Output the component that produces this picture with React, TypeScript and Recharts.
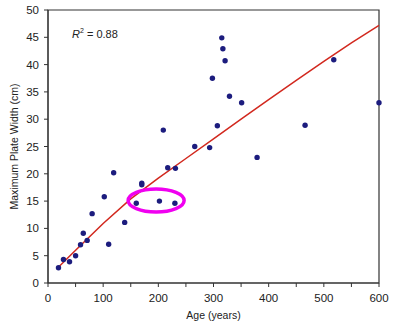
import {
  ScatterChart,
  Scatter,
  XAxis,
  YAxis,
  ReferenceArea,
  ReferenceDot,
  Label,
} from 'recharts';

// Ages (years) and maximum plate widths (cm)
const ages = [19, 28, 39, 50, 59, 64, 71, 80, 102, 110, 119, 139, 160, 170, 170, 202, 217, 231, 230, 209, 266, 293, 298, 307, 315, 317, 321, 329, 351, 379, 466, 518, 600];
const widths = [2.8, 4.3, 3.9, 5.0, 7.0, 9.1, 7.8, 12.7, 15.8, 7.1, 20.2, 11.1, 14.6, 18.3, 18.0, 15.0, 21.1, 21.0, 14.6, 28.0, 25.0, 24.8, 37.5, 28.8, 44.9, 42.9, 40.7, 34.2, 33.0, 23.0, 28.9, 40.9, 33.0];

// Fitted curve, values
const trendAges = [16, 50, 100, 150, 200, 250, 300, 350, 400, 450, 500, 550, 600];
const trendWidths = [2.6, 6.0, 10.9, 15.4, 19.2, 22.8, 26.4, 30.0, 33.6, 37.1, 40.6, 44.0, 47.2];

const xTicks = [0, 50, 100, 150, 200, 250, 300, 350, 400, 450, 500, 550, 600];
const yTicks = [0, 5, 10, 15, 20, 25, 30, 35, 40, 45, 50];

// highlighted cluster
const highlightAge = 196;
const highlightWidth = 15.1;

const points = ages.map((a, i) => ({ x: a, y: widths[i] }));
const trend = trendAges.map((a, i) => ({ x: a, y: trendWidths[i] }));

const FONT = '"Liberation Sans", Arial, sans-serif';
const AXIS = '#333';

const Dot = (props: any) => (
  <circle cx={props.cx} cy={props.cy} r={2.7} fill="#1c1c7e" />
);

const Ellipse = (props: any) => (
  <ellipse
    cx={props.cx}
    cy={props.cy}
    rx={28}
    ry={11.5}
    fill="none"
    stroke="#f000f0"
    strokeWidth={3.5}
  />
);

export default function App() {
  return (
    <div style={{ position: 'absolute', left: 0, top: 0, width: 400, height: 324, background: '#fff' }}>
      <ScatterChart
        width={400}
        height={324}
        margin={{ top: 10, right: 21, left: 0, bottom: 0 }}
      >
        <XAxis
          type="number"
          dataKey="x"
          domain={[0, 600]}
          ticks={xTicks}
          interval={0}
          tickFormatter={(v: number) => (v % 100 === 0 ? String(v) : '')}
          tickSize={4}
          tickMargin={7}
          height={41}
          stroke={AXIS}
          tick={{ fill: '#222', fontSize: 11.5, fontFamily: FONT }}
        >
          <Label
            value="Age (years)"
            position="insideBottom"
            offset={5}
            style={{ fill: '#222', fontSize: 10.5, fontFamily: FONT }}
          />
        </XAxis>
        <YAxis
          type="number"
          dataKey="y"
          domain={[0, 50]}
          ticks={yTicks}
          interval={0}
          tickSize={4}
          tickMargin={5}
          width={48}
          stroke={AXIS}
          tick={{ fill: '#222', fontSize: 11.5, fontFamily: FONT }}
        >
          <Label
            value="Maximum Plate Width (cm)"
            angle={-90}
            position="insideLeft"
            offset={14}
            style={{ fill: '#222', fontSize: 10.5, fontFamily: FONT, textAnchor: 'middle' }}
          />
        </YAxis>
        <ReferenceArea x1={0} x2={600} y1={0} y2={50} fill="none" stroke={AXIS} strokeWidth={1.2} />
        <Scatter
          data={trend}
          line={{ stroke: '#d2281e', strokeWidth: 1.5 }}
          lineType="joint"
          shape={() => null}
          isAnimationActive={false}
        />
        <Scatter data={points} shape={Dot} isAnimationActive={false} />
        <ReferenceDot x={highlightAge} y={highlightWidth} shape={Ellipse} />
      </ScatterChart>
      <div
        style={{
          position: 'absolute',
          left: 72,
          top: 27,
          fontFamily: FONT,
          fontSize: 11,
          color: '#222',
          whiteSpace: 'nowrap',
        }}
      >
        <span style={{ fontStyle: 'italic' }}>R</span>
        <sup style={{ fontSize: 7 }}>2</sup> = 0.88
      </div>
    </div>
  );
}
